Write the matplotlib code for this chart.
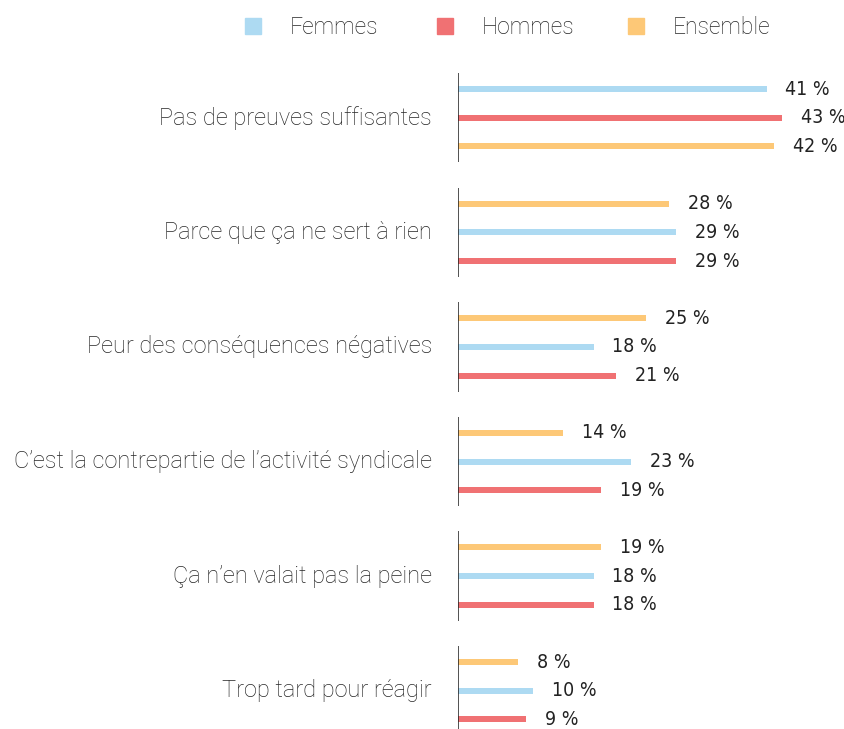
import matplotlib
matplotlib.use("Agg")
import matplotlib.pyplot as plt

categories = [
    "Pas de preuves suffisantes",
    "Parce que ça ne sert à rien",
    "Peur des conséquences négatives",
    "C\u2019est la contrepartie de l\u2019activité syndicale",
    "Ça n\u2019en valait pas la peine",
    "Trop tard pour réagir",
]
femmes = [41, 29, 18, 23, 18, 10]
hommes = [43, 29, 21, 19, 18, 9]
ensemble = [42, 28, 25, 14, 19, 8]

series = {"Femmes": femmes, "Hommes": hommes, "Ensemble": ensemble}
colors = {"Femmes": "#ADDAF2", "Hommes": "#F07173", "Ensemble": "#FDC877"}
# order of bars inside each group (top to bottom)
orders = [["Femmes", "Hommes", "Ensemble"]] + [["Ensemble", "Femmes", "Hommes"]] * 5

W, H = 845, 729
fig = plt.figure(figsize=(W / 100, H / 100), dpi=100)
ax = fig.add_axes([458 / W, 0, 1 - 458 / W, 1])
px_per_pct = 7.53
ax.set_xlim(0, (W - 458) / px_per_pct)
ax.set_ylim(H, 0)
ax.axis("off")

label_font = dict(family="Roboto", fontweight="light", color="#262626")
value_font = dict(family="DejaVu Sans", fontstretch="condensed", color="#222222")

for g, cat in enumerate(categories):
    y0 = 89 + g * 114.6
    ys = [y0 + s * 28.7 for s in range(3)]
    ax.plot([0, 0], [ys[0] - 16, ys[-1] + 16], color="#222222", lw=1.1,
            solid_capstyle="butt")
    for name, y in zip(orders[g], ys):
        v = series[name][g]
        ax.barh(y, v, height=6, color=colors[name], left=0)
        ax.annotate(f"{v} %", (v, y), xytext=(13.5, 0), textcoords="offset points",
                    va="center", ha="left", fontsize=14, **value_font)
    fig.text(432 / W, 1 - ys[1] / H, cat, ha="right", va="center",
             fontsize=17, **label_font)

# legend
for x, name in zip([253, 445, 636], ["Femmes", "Hommes", "Ensemble"]):
    fig.patches.append(plt.Rectangle(((x - 8) / W, 1 - 34 / H), 16 / W, 16 / H,
                                     transform=fig.transFigure, color=colors[name]))
    fig.text((x + 37) / W, 1 - 28 / H, name, ha="left", va="center",
             fontsize=16.5, **label_font)

fig.savefig("out.png", dpi=100)
